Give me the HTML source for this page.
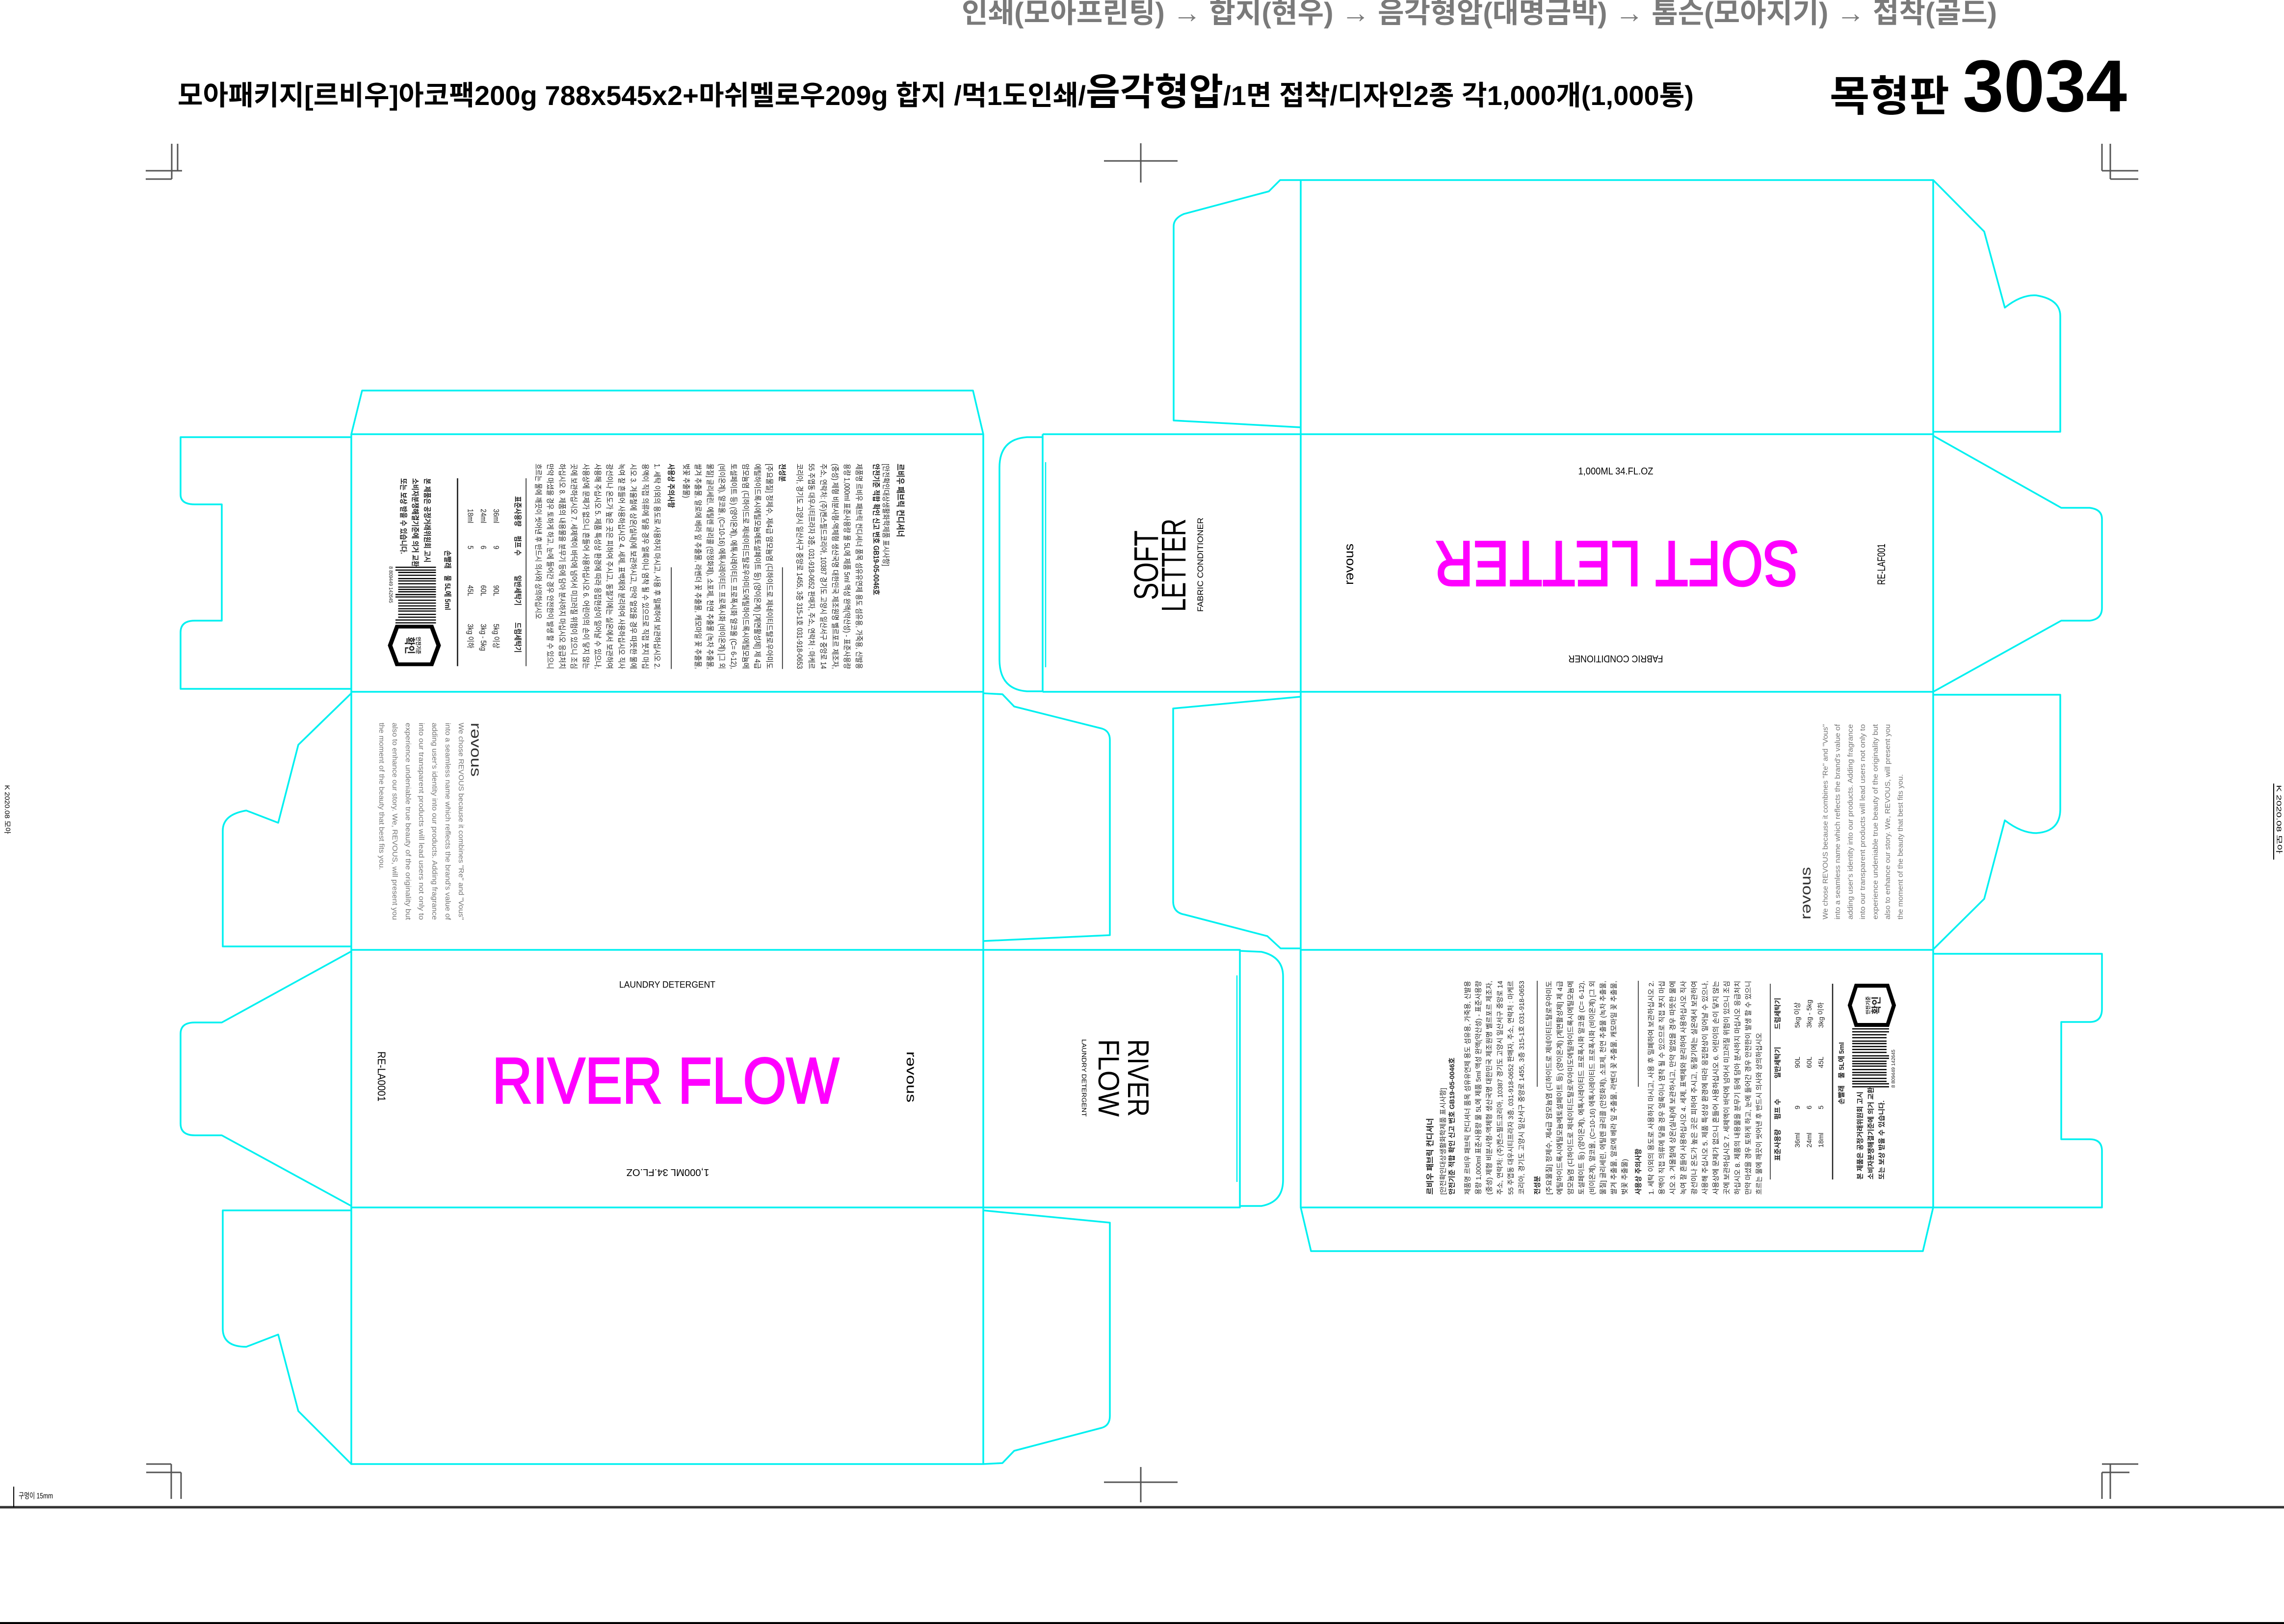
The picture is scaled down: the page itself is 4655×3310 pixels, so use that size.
<!DOCTYPE html>
<html><head><meta charset="utf-8"><style>
html,body{margin:0;padding:0;background:#fff;}
svg{display:block;}
text{font-family:"Liberation Sans","Noto Sans CJK KR",sans-serif;}
</style></head><body>
<svg xmlns="http://www.w3.org/2000/svg" width="4655" height="3310" viewBox="0 0 4655 3310">
<rect width="4655" height="3310" fill="#fff"/>

<!-- Header -->
<text x="1960" y="46" font-size="58" fill="#7a7a7a" font-weight="bold" textLength="2110" lengthAdjust="spacingAndGlyphs">인쇄(모아프린팅)  → 합지(현우) → 음각형압(대명금박) → 톰슨(모아지기) → 접착(골드)</text>
<text x="362" y="214" font-size="56" fill="#000" font-weight="bold" textLength="3090" lengthAdjust="spacingAndGlyphs">모아패키지[르비우]아코팩200g 788x545x2+마쉬멜로우209g 합지 /먹1도인쇄/<tspan font-size="76">음각형압</tspan>/1면 접착/디자인2종 각1,000개(1,000통)</text>
<text x="3729" y="226" font-size="86" font-weight="bold" fill="#000" textLength="244" lengthAdjust="spacingAndGlyphs">목형판</text>
<text x="4000" y="227" font-size="150" font-weight="bold" fill="#000" textLength="335" lengthAdjust="spacingAndGlyphs">3034</text>

<!-- registration marks -->
<g stroke="#555" stroke-width="3" fill="none">
<path d="M297,348 H371 M350,293 V365 M362,293 V348 M297,365 H350"/>
<path d="M2325,292 V372 M2250,328 H2400"/>
<path d="M4284,348 H4358 M4284,293 V348 M4301,293 V365 M4301,365 H4358"/>
<path d="M298,2984 H349 M298,3001 H369 M349,2984 V3055 M369,3001 V3055"/>
<path d="M2325,2990 V3062 M2250,3021 H2400"/>
<path d="M4284,2984 H4358 M4284,3001 H4340 M4301,2984 V3055 M4284,3001 V3055"/>
</g>
<line x1="0" y1="3072" x2="4655" y2="3072" stroke="#333" stroke-width="5"/>
<line x1="0" y1="3308" x2="4655" y2="3308" stroke="#000" stroke-width="4"/>
<line x1="28" y1="3030" x2="28" y2="3072" stroke="#000" stroke-width="2"/>
<text x="38" y="3054" font-size="16" fill="#000" textLength="70" lengthAdjust="spacingAndGlyphs">구멍이 15mm</text>
<g transform="translate(10,1600) rotate(90)"><text font-size="14" fill="#000" textLength="100" lengthAdjust="spacingAndGlyphs">K 2020.08 모아</text></g>
<line x1="4634" y1="1597" x2="4634" y2="1752" stroke="#000" stroke-width="2"/>
<g transform="translate(4640,1600) rotate(90)"><text font-size="14" fill="#000" textLength="140" lengthAdjust="spacingAndGlyphs">K 2020.08 모아</text></g>

<!-- Dieline -->
<g stroke="#00f0f0" stroke-width="3.5" fill="none" stroke-linejoin="round">
<path d="M716,885 L738,796 L1983,796 L2004,885"/>
<path d="M716,885 V2984 H2004 V885 Z"/>
<path d="M716,1410 H2004 M716,1936 H2004 M716,2461 H2004"/>
<path d="M716,891 L368,891 L368,1008 Q368,1028 397,1028 L452,1028 L452,1265 L397,1265 Q368,1265 368,1289 L368,1404 L716,1404"/>
<path d="M716,1413 L608,1518 L567,1677 L502,1652 Q454,1660 454,1693 L454,1929 L716,1929"/>
<path d="M716,1939 L452,2084 L397,2084 Q368,2084 368,2107 L368,2290 Q368,2314 397,2314 L452,2314 L716,2458"/>
<path d="M716,2467 L454,2467 L454,2708 Q454,2745 502,2745 L567,2720 L608,2876 L716,2984"/>
<path d="M2004,1413 L2043,1415 L2067,1440 L2246,1485 Q2262,1490 2262,1508 L2262,1906 L2004,1918"/>
<path d="M2004,2467 L2262,2492 L2262,2886 Q2262,2905 2246,2910 L2067,2957 L2043,2982 L2004,2984"/>
<path d="M2005,1936 H2527 V2461 H2005 M2527,1938 L2571,1940 Q2615,1950 2615,1990 L2615,2405 Q2615,2450 2571,2458 L2527,2458"/>
<path d="M2521,1988 V2409" stroke-width="2.5"/>
<path d="M2125,885 H2651 M2125,1410 H2651 M2125,885 V1410 M2125,891 L2093,891 Q2037,895 2037,953 L2037,1344 Q2037,1405 2093,1409 L2125,1409"/>
<path d="M2131,942 V1360" stroke-width="2.5"/>
<path d="M2651,367 H3940 V2461 H2651 Z"/>
<path d="M2651,885 H3940 M2651,1410 H3940 M2651,1936 H3940"/>
<path d="M2651,2461 L2672,2550 L3919,2550 L3940,2461"/>
<path d="M2651,871 L2392,857 L2392,461 Q2392,445 2413,436 L2586,390 L2609,367 L2651,367"/>
<path d="M2651,1420 L2391,1444 L2391,1837 Q2391,1860 2414,1864 L2583,1908 L2610,1933 L2651,1933"/>
<path d="M3940,367 L4044,472 L4086,627 Q4120,600 4150,602 Q4199,610 4199,644 L4199,880 L3940,880"/>
<path d="M3940,888 L4201,1035 L4259,1035 Q4284,1038 4284,1058 L4284,1239 Q4284,1262 4259,1265 L4201,1265 L3940,1410"/>
<path d="M3940,1416 L4199,1416 L4199,1649 Q4199,1695 4150,1698 Q4120,1698 4086,1672 L4044,1832 L3940,1935"/>
<path d="M3940,1944 L4284,1944 L4284,2056 Q4284,2083 4259,2083 L4201,2083 L4201,2322 L4259,2322 Q4284,2322 4284,2346 L4284,2461 L3940,2461"/>
</g>

<!-- Front RIVER FLOW -->
<text x="1360" y="2013" font-size="18" text-anchor="middle" fill="#000" textLength="196" lengthAdjust="spacingAndGlyphs">LAUNDRY DETERGENT</text>
<text x="1003" y="2248" font-size="132" fill="#ff00ff" stroke="#ff00ff" stroke-width="3.5" textLength="707" lengthAdjust="spacingAndGlyphs">RIVER FLOW</text>
<g transform="rotate(180 1361 2390)"><text x="1361" y="2397" font-size="20" text-anchor="middle" fill="#000" textLength="169" lengthAdjust="spacingAndGlyphs">1,000ML 34.FL.OZ</text></g>
<g transform="translate(770,2143) rotate(90)"><text font-size="22" fill="#000" textLength="102" lengthAdjust="spacingAndGlyphs">RE-LA0001</text></g>
<g transform="translate(1848,2143) rotate(90)"><text font-size="28" fill="#000" textLength="104" lengthAdjust="spacingAndGlyphs">rəvous</text></g>

<!-- Front SOFT LETTER -->
<text x="3293" y="967" font-size="20" text-anchor="middle" fill="#000" textLength="153" lengthAdjust="spacingAndGlyphs">1,000ML 34.FL.OZ</text>
<g transform="rotate(180 3295 1150)"><text x="3295" y="1196" font-size="130" text-anchor="middle" fill="#ff00ff" stroke="#ff00ff" stroke-width="3.5" textLength="743" lengthAdjust="spacingAndGlyphs">SOFT LETTER</text></g>
<g transform="rotate(180 3293 1343)"><text x="3293" y="1350" font-size="20" text-anchor="middle" fill="#000" textLength="193" lengthAdjust="spacingAndGlyphs">FABRIC CONDITIONER</text></g>
<g transform="translate(3842,1192) rotate(-90)"><text font-size="22" fill="#000" textLength="84" lengthAdjust="spacingAndGlyphs">RE-LAF001</text></g>
<g transform="translate(2758,1192) rotate(-90)"><text font-size="26" fill="#000" textLength="84" lengthAdjust="spacingAndGlyphs">rəvous</text></g>

<!-- Side panels -->
<g transform="translate(2360,1223) rotate(-90)"><text font-size="70" fill="#000" textLength="142" lengthAdjust="spacingAndGlyphs">SOFT</text></g>
<g transform="translate(2416,1247) rotate(-90)"><text font-size="70" fill="#000" textLength="190" lengthAdjust="spacingAndGlyphs">LETTER</text></g>
<g transform="translate(2452,1247) rotate(-90)"><text font-size="17" fill="#000" textLength="192" lengthAdjust="spacingAndGlyphs">FABRIC CONDITIONER</text></g>
<g transform="translate(2299,2118) rotate(90)"><text font-size="60" fill="#000" textLength="158" lengthAdjust="spacingAndGlyphs">RIVER</text></g>
<g transform="translate(2239,2118) rotate(90)"><text font-size="60" fill="#000" textLength="158" lengthAdjust="spacingAndGlyphs">FLOW</text></g>
<g transform="translate(2205,2118) rotate(90)"><text font-size="13" fill="#000" textLength="158" lengthAdjust="spacingAndGlyphs">LAUNDRY DETERGENT</text></g>

<!-- REVOUS story left -->
<g transform="translate(960,1473) rotate(90)" fill="#777">
<text font-size="30" fill="#333" textLength="110" lengthAdjust="spacingAndGlyphs">rəvous</text>
<g font-size="15">
<text y="25" textLength="402" lengthAdjust="spacingAndGlyphs">We chose REVOUS because it combines "Re" and "Vous"</text>
<text y="52" textLength="402" lengthAdjust="spacingAndGlyphs">into a seamless name which reflects the brand's value of</text>
<text y="79" textLength="402" lengthAdjust="spacingAndGlyphs">adding user's identity into our products. Adding fragrance</text>
<text y="106" textLength="402" lengthAdjust="spacingAndGlyphs">into our transparent products will lead users not only to</text>
<text y="133" textLength="402" lengthAdjust="spacingAndGlyphs">experience undeniable true beauty of the originality but</text>
<text y="160" textLength="402" lengthAdjust="spacingAndGlyphs">also to enhance our story. We, REVOUS, will present you</text>
<text y="187" textLength="300" lengthAdjust="spacingAndGlyphs">the moment of the beauty that best fits you.</text>
</g></g>

<!-- REVOUS story right -->
<g transform="translate(3690,1874) rotate(-90)" fill="#777">
<text font-size="30" fill="#333" textLength="107" lengthAdjust="spacingAndGlyphs">rəvous</text>
<g font-size="15">
<text y="35" textLength="398" lengthAdjust="spacingAndGlyphs">We chose REVOUS because it combines "Re" and "Vous"</text>
<text y="60" textLength="398" lengthAdjust="spacingAndGlyphs">into a seamless name which reflects the brand's value of</text>
<text y="86" textLength="398" lengthAdjust="spacingAndGlyphs">adding user's identity into our products. Adding fragrance</text>
<text y="111" textLength="398" lengthAdjust="spacingAndGlyphs">into our transparent products will lead users not only to</text>
<text y="137" textLength="398" lengthAdjust="spacingAndGlyphs">experience undeniable true beauty of the originality but</text>
<text y="162" textLength="398" lengthAdjust="spacingAndGlyphs">also to enhance our story. We, REVOUS, will present you</text>
<text y="188" textLength="296" lengthAdjust="spacingAndGlyphs">the moment of the beauty that best fits you.</text>
</g></g>

<!-- Label right -->
<g transform="translate(2900,2435) rotate(-90)" fill="#222" font-size="14">
<text y="20" font-size="16" font-weight="bold">르비우 패브릭 컨디셔너</text>
<text y="46">[안전확인대상생활화학제품 표시사항]</text>
<text y="64" font-weight="bold">안전기준 적합 확인 신고 번호 GB19-05-0046호</text>
<text y="96" textLength="436" lengthAdjust="spacingAndGlyphs">제품명 르비우 패브릭 컨디셔너 품목 섬유유연제 용도 섬유용, 가죽용, 신발용</text>
<text y="118" textLength="436" lengthAdjust="spacingAndGlyphs">용량 1,000ml 표준사용량 물 5L에 제품 5ml 액성 완액(약산성) - 표준사용량</text>
<text y="140" textLength="436" lengthAdjust="spacingAndGlyphs">(중성) 제형 비분사형-액체형 생산국명 대한민국 제조원명 벨르포르 제조자,</text>
<text y="162" textLength="436" lengthAdjust="spacingAndGlyphs">주소, 연락처: (주)켄스필드코리아, 10387 경기도 고양시 일산서구 중앙로 14</text>
<text y="184" textLength="436" lengthAdjust="spacingAndGlyphs">55 주엽동 대우시티프라자 3층, 031-918-0652 판매자, 주소, 연락처 : 마케르</text>
<text y="206" textLength="436" lengthAdjust="spacingAndGlyphs">코리아, 경기도 고양시 일산서구 중앙로 1455, 3층 315-1호 031-918-0653</text>
<text y="238" font-weight="bold">전성분</text>
<line x1="220" y1="233" x2="436" y2="233" stroke="#222" stroke-width="1.5"/>
<text y="262" textLength="436" lengthAdjust="spacingAndGlyphs">[주요물질] 정제수, 제4급 암모늄염 (디하이드로 제네이티드탈로우아미도</text>
<text y="284" textLength="436" lengthAdjust="spacingAndGlyphs">에틸하이드록시에틸모늄메토설페이트 등) (양이온계) [계면활성제] 제 4급</text>
<text y="306" textLength="436" lengthAdjust="spacingAndGlyphs">암모늄염 (디하이드로 제네이티드탈로우아미도에틸하이드록시에틸모늄메</text>
<text y="328" textLength="436" lengthAdjust="spacingAndGlyphs">토설페이트 등) (양이온계), 에톡시레이티드 프로폭시화 알코올 (C= 6-12),</text>
<text y="350" textLength="436" lengthAdjust="spacingAndGlyphs">(비이온계), 알코올, (C=10-16) 에톡시레이티드 프로폭시화 (비이온계) [그 외</text>
<text y="372" textLength="436" lengthAdjust="spacingAndGlyphs">물질] 글리세린, 에틸렌 글리콜 (안정화제), 소포제, 천연 추출물 (녹차 추출물,</text>
<text y="394" textLength="436" lengthAdjust="spacingAndGlyphs">쌀겨 추출물, 알로에 베라 잎 추출물, 라벤더 꽃 추출물, 캐모마일 꽃 추출물,</text>
<text y="416">벚꽃 추출물)</text>
<text y="444" font-weight="bold">사용상 주의사항</text>
<line x1="220" y1="439" x2="436" y2="439" stroke="#222" stroke-width="1.5"/>
<text y="470" textLength="436" lengthAdjust="spacingAndGlyphs">1. 세탁 이외의 용도로 사용하지 마시고, 사용 후 밀폐하여 보관하십시오  2.</text>
<text y="492" textLength="436" lengthAdjust="spacingAndGlyphs">용액이 직접 의류에 닿을 경우 얼룩이나 염착 될 수 있으므로 직접 붓지 마십</text>
<text y="514" textLength="436" lengthAdjust="spacingAndGlyphs">시오  3. 겨울철에 상온(실내)에 보관하시고, 만약 얼었을 경우 따뜻한 물에</text>
<text y="536" textLength="436" lengthAdjust="spacingAndGlyphs">녹여 잘 흔들어 사용하십시오  4. 세제, 표백제와 분리하여 사용하십시오 직사</text>
<text y="558" textLength="436" lengthAdjust="spacingAndGlyphs">광선이나 온도가 높은 곳은 피하여 주시고, 동절기에는 실온에서 보관하여</text>
<text y="580" textLength="436" lengthAdjust="spacingAndGlyphs">사용해 주십시오  5. 제품 특성상 환경에 따라 응집현상이 일어날 수 있으나,</text>
<text y="602" textLength="436" lengthAdjust="spacingAndGlyphs">사용상에 문제가 없으니 흔들어 사용하십시오  6. 어린이의 손이 닿지 않는</text>
<text y="624" textLength="436" lengthAdjust="spacingAndGlyphs">곳에 보관하십시오  7. 세제액이 바닥에 넘어서 미끄러질 위험이 있으니 조심</text>
<text y="646" textLength="436" lengthAdjust="spacingAndGlyphs">하십시오  8. 제품의 내용물을 분무기 등에 담아 분사하지 마십시오 응급처치</text>
<text y="668" textLength="436" lengthAdjust="spacingAndGlyphs">만약 마셨을 경우 토하게 하고, 눈에 들어간 경우 안전한이 발생 할 수 있으니</text>
<text y="690" textLength="330" lengthAdjust="spacingAndGlyphs">흐르는 물에 깨끗이 씻어낸 후 반드시 의사와 상의하십시오</text>
<line x1="31" y1="708" x2="430" y2="708" stroke="#222" stroke-width="1.5"/>
<g font-weight="bold">
<text x="69" y="728">표준사용량</text><text x="153" y="728">펌프 수</text><text x="237" y="728">일반세탁기</text><text x="337" y="728">드럼세탁기</text>
</g>
<text x="96" y="768">36ml</text><text x="174" y="768">9</text><text x="258" y="768">90L</text><text x="340" y="768">5kg 이상</text>
<text x="96" y="792">24ml</text><text x="174" y="792">6</text><text x="258" y="792">60L</text><text x="340" y="792">3kg - 5kg</text>
<text x="96" y="816">18ml</text><text x="174" y="816">5</text><text x="258" y="816">45L</text><text x="340" y="816">3kg 이하</text>
<line x1="31" y1="835" x2="430" y2="835" stroke="#222" stroke-width="2.5"/>
<text x="184" y="858" font-weight="bold">손빨래</text><text x="237" y="858" font-weight="bold">물 5L에 5ml</text>
<text x="31" y="896" font-weight="bold">본 제품은 공정거래위원회 고시</text>
<text x="31" y="918" font-weight="bold">소비자분쟁해결기준에 의거 교환</text>
<text x="31" y="940" font-weight="bold">또는 보상 받을 수 있습니다.</text>
<g stroke="#000" stroke-width="2.5">
<path d="M220,875V950 M226,875V950 M231,875V945 M237,875V945 M244,875V945 M249,875V945 M255,875V945 M262,875V945 M267,875V945 M272,875V945 M278,875V950 M283,875V950 M290,875V945 M296,875V945 M302,875V945 M308,875V945 M313,875V945 M320,875V945 M326,875V945 M332,875V950 M338,875V950"/>
</g>
<text x="218" y="962" font-size="10">8 809449 142645</text>
<g transform="translate(386,915)">
<polygon points="-40,-32 0,-45 40,-32 40,32 0,45 -40,32" fill="none" stroke="#000" stroke-width="8"/>
<text x="0" y="-4" font-size="10" text-anchor="middle" font-weight="bold">안전기준</text>
<text x="0" y="16" font-size="20" text-anchor="middle" font-weight="bold">확인</text>
</g>
</g>

<!-- Label left -->
<g transform="translate(1851,945) rotate(90) scale(0.96,1.1)" fill="#222" font-size="14">
<text y="20" font-size="16" font-weight="bold">르비우 패브릭 컨디셔너</text>
<text y="46">[안전확인대상생활화학제품 표시사항]</text>
<text y="64" font-weight="bold">안전기준 적합 확인 신고 번호 GB19-05-0046호</text>
<text y="96" textLength="436" lengthAdjust="spacingAndGlyphs">제품명 르비우 패브릭 컨디셔너 품목 섬유유연제 용도 섬유용, 가죽용, 신발용</text>
<text y="118" textLength="436" lengthAdjust="spacingAndGlyphs">용량 1,000ml 표준사용량 물 5L에 제품 5ml 액성 완액(약산성) - 표준사용량</text>
<text y="140" textLength="436" lengthAdjust="spacingAndGlyphs">(중성) 제형 비분사형-액체형 생산국명 대한민국 제조원명 벨르포르 제조자,</text>
<text y="162" textLength="436" lengthAdjust="spacingAndGlyphs">주소, 연락처: (주)켄스필드코리아, 10387 경기도 고양시 일산서구 중앙로 14</text>
<text y="184" textLength="436" lengthAdjust="spacingAndGlyphs">55 주엽동 대우시티프라자 3층, 031-918-0652 판매자, 주소, 연락처 : 마케르</text>
<text y="206" textLength="436" lengthAdjust="spacingAndGlyphs">코리아, 경기도 고양시 일산서구 중앙로 1455, 3층 315-1호 031-918-0653</text>
<text y="238" font-weight="bold">전성분</text>
<line x1="220" y1="233" x2="436" y2="233" stroke="#222" stroke-width="1.5"/>
<text y="262" textLength="436" lengthAdjust="spacingAndGlyphs">[주요물질] 정제수, 제4급 암모늄염 (디하이드로 제네이티드탈로우아미도</text>
<text y="284" textLength="436" lengthAdjust="spacingAndGlyphs">에틸하이드록시에틸모늄메토설페이트 등) (양이온계) [계면활성제] 제 4급</text>
<text y="306" textLength="436" lengthAdjust="spacingAndGlyphs">암모늄염 (디하이드로 제네이티드탈로우아미도에틸하이드록시에틸모늄메</text>
<text y="328" textLength="436" lengthAdjust="spacingAndGlyphs">토설페이트 등) (양이온계), 에톡시레이티드 프로폭시화 알코올 (C= 6-12),</text>
<text y="350" textLength="436" lengthAdjust="spacingAndGlyphs">(비이온계), 알코올, (C=10-16) 에톡시레이티드 프로폭시화 (비이온계) [그 외</text>
<text y="372" textLength="436" lengthAdjust="spacingAndGlyphs">물질] 글리세린, 에틸렌 글리콜 (안정화제), 소포제, 천연 추출물 (녹차 추출물,</text>
<text y="394" textLength="436" lengthAdjust="spacingAndGlyphs">쌀겨 추출물, 알로에 베라 잎 추출물, 라벤더 꽃 추출물, 캐모마일 꽃 추출물,</text>
<text y="416">벚꽃 추출물)</text>
<text y="444" font-weight="bold">사용상 주의사항</text>
<line x1="220" y1="439" x2="436" y2="439" stroke="#222" stroke-width="1.5"/>
<text y="470" textLength="436" lengthAdjust="spacingAndGlyphs">1. 세탁 이외의 용도로 사용하지 마시고, 사용 후 밀폐하여 보관하십시오  2.</text>
<text y="492" textLength="436" lengthAdjust="spacingAndGlyphs">용액이 직접 의류에 닿을 경우 얼룩이나 염착 될 수 있으므로 직접 붓지 마십</text>
<text y="514" textLength="436" lengthAdjust="spacingAndGlyphs">시오  3. 겨울철에 상온(실내)에 보관하시고, 만약 얼었을 경우 따뜻한 물에</text>
<text y="536" textLength="436" lengthAdjust="spacingAndGlyphs">녹여 잘 흔들어 사용하십시오  4. 세제, 표백제와 분리하여 사용하십시오 직사</text>
<text y="558" textLength="436" lengthAdjust="spacingAndGlyphs">광선이나 온도가 높은 곳은 피하여 주시고, 동절기에는 실온에서 보관하여</text>
<text y="580" textLength="436" lengthAdjust="spacingAndGlyphs">사용해 주십시오  5. 제품 특성상 환경에 따라 응집현상이 일어날 수 있으나,</text>
<text y="602" textLength="436" lengthAdjust="spacingAndGlyphs">사용상에 문제가 없으니 흔들어 사용하십시오  6. 어린이의 손이 닿지 않는</text>
<text y="624" textLength="436" lengthAdjust="spacingAndGlyphs">곳에 보관하십시오  7. 세제액이 바닥에 넘어서 미끄러질 위험이 있으니 조심</text>
<text y="646" textLength="436" lengthAdjust="spacingAndGlyphs">하십시오  8. 제품의 내용물을 분무기 등에 담아 분사하지 마십시오 응급처치</text>
<text y="668" textLength="436" lengthAdjust="spacingAndGlyphs">만약 마셨을 경우 토하게 하고, 눈에 들어간 경우 안전한이 발생 할 수 있으니</text>
<text y="690" textLength="330" lengthAdjust="spacingAndGlyphs">흐르는 물에 깨끗이 씻어낸 후 반드시 의사와 상의하십시오</text>
<line x1="31" y1="708" x2="430" y2="708" stroke="#222" stroke-width="1.5"/>
<g font-weight="bold">
<text x="69" y="728">표준사용량</text><text x="153" y="728">펌프 수</text><text x="237" y="728">일반세탁기</text><text x="337" y="728">드럼세탁기</text>
</g>
<text x="96" y="768">36ml</text><text x="174" y="768">9</text><text x="258" y="768">90L</text><text x="340" y="768">5kg 이상</text>
<text x="96" y="792">24ml</text><text x="174" y="792">6</text><text x="258" y="792">60L</text><text x="340" y="792">3kg - 5kg</text>
<text x="96" y="816">18ml</text><text x="174" y="816">5</text><text x="258" y="816">45L</text><text x="340" y="816">3kg 이하</text>
<line x1="31" y1="835" x2="430" y2="835" stroke="#222" stroke-width="2.5"/>
<text x="184" y="858" font-weight="bold">손빨래</text><text x="237" y="858" font-weight="bold">물 5L에 5ml</text>
<text x="31" y="896" font-weight="bold">본 제품은 공정거래위원회 고시</text>
<text x="31" y="918" font-weight="bold">소비자분쟁해결기준에 의거 교환</text>
<text x="31" y="940" font-weight="bold">또는 보상 받을 수 있습니다.</text>
<g stroke="#000" stroke-width="2.5">
<path d="M220,875V950 M226,875V950 M231,875V945 M237,875V945 M244,875V945 M249,875V945 M255,875V945 M262,875V945 M267,875V945 M272,875V945 M278,875V950 M283,875V950 M290,875V945 M296,875V945 M302,875V945 M308,875V945 M313,875V945 M320,875V945 M326,875V945 M332,875V950 M338,875V950"/>
</g>
<text x="218" y="962" font-size="10">8 809449 142645</text>
<g transform="translate(386,915)">
<polygon points="-40,-32 0,-45 40,-32 40,32 0,45 -40,32" fill="none" stroke="#000" stroke-width="8"/>
<text x="0" y="-4" font-size="10" text-anchor="middle" font-weight="bold">안전기준</text>
<text x="0" y="16" font-size="20" text-anchor="middle" font-weight="bold">확인</text>
</g>
</g>
</svg>
</body></html>
